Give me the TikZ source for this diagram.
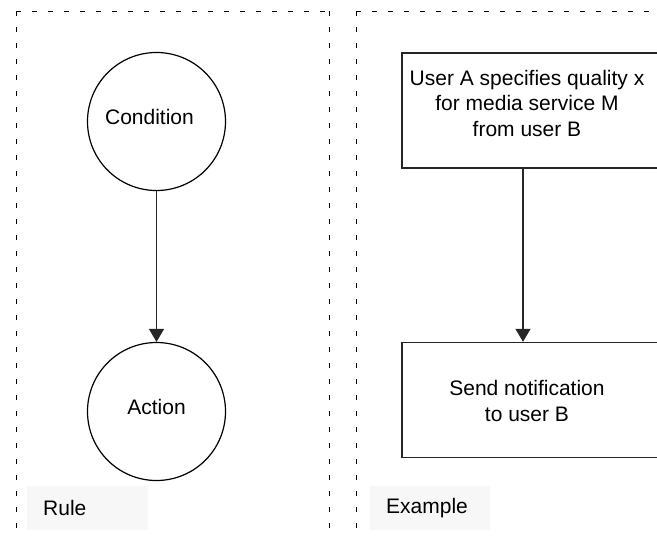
\documentclass[tikz,border=0pt]{standalone}
\usepackage{fontspec}
\setmainfont{Liberation Sans}
\usetikzlibrary{arrows.meta}
\definecolor{edge}{HTML}{262626}
\definecolor{tagfill}{HTML}{F7F7F7}
\begin{document}
\begin{tikzpicture}[x=1pt,y=-1pt,
  font=\fontsize{21}{25.5}\selectfont,
  panel/.style={draw=black, line width=0.9pt, dash pattern=on 5pt off 11pt},
  state/.style={circle, draw=black, line width=1.2pt, minimum size=138pt, inner sep=0pt},
  stepbox/.style={rectangle, draw=edge, line width=1.4pt, minimum width=278pt, minimum height=115pt, inner sep=0pt},
  tag/.style={fill=tagfill, anchor=north west, text width=89pt, align=left,
              inner xsep=16pt, inner ysep=0pt, minimum height=44pt},
  flow/.style={draw=edge, line width=1.4pt, -{Triangle[width=15pt,length=13pt]}}]
\useasboundingbox (0,0) rectangle (657,539);
\clip (0,0) rectangle (657,539);

% dashed frames of the two panels
\draw[panel] (16,11) -- (329,11);
\draw[panel] (16,11) -- (16,545);
\draw[panel] (329,11) -- (329,545);
\draw[panel] (356,11) -- (680,11);
\draw[panel] (356,11) -- (356,545);

% rule: condition leads to action
\node[state, label={[xshift=-7pt,yshift=5pt]center:Condition}] (cond) at (156.5,121.5) {};
\node[state, label={[yshift=5pt]center:Action}] (act) at (156.5,411.5) {};
\draw[flow] (cond.south) -- (act.north);

% example of such a rule
\node[stepbox] (spec) at (541,110.5) {};
\node[align=center] (spectext) at (527,103) {User A specifies quality x\\for media service M\\from user B};
\node[stepbox] (notify) at (541,400) {};
\node[align=center] (notifytext) at (527,401) {Send notification\\to user B};
\draw[flow] ([xshift=-18pt]spec.south) -- ([xshift=-18pt]notify.north);

% panel captions
\node[tag] (ruletag) at (27,486) {Rule};
\node[tag, text width=88pt] (extag) at (370,486) {Example};
\end{tikzpicture}
\end{document}
